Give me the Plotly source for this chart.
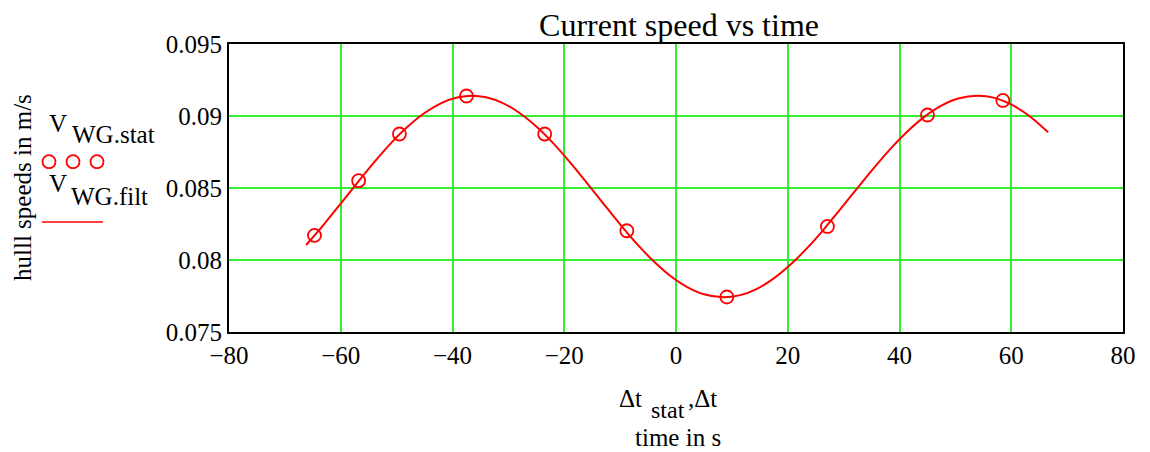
import plotly.graph_objects as go

# Sampled (stat) values
t_stat = [-64.7, -56.8, -49.5, -37.5, -23.5, -8.8, 9.1, 27.1, 45.0, 58.5]
v_stat = [0.08171, 0.08551, 0.08875, 0.09139, 0.08875, 0.08203, 0.07743, 0.08233, 0.09007, 0.09108]

# Filtered curve values
t_filt = [-66.2, -63, -60, -57, -54, -51, -48, -45, -42, -39, -36.5, -34, -31, -28, -25,
          -22, -19, -16, -13, -10, -7, -4, -1, 2, 5, 8.5, 11.5, 14.5, 17.5, 20.5, 23.5,
          26.5, 29.5, 32.5, 35.5, 38.5, 41.5, 44.5, 47.5, 50.5, 54, 57, 60, 63, 66.6]
v_filt = [0.08104, 0.08248, 0.08392, 0.08538, 0.08680, 0.08812, 0.08927, 0.09021, 0.09090,
          0.09130, 0.09141, 0.09130, 0.09090, 0.09021, 0.08927, 0.08812, 0.08680, 0.08538,
          0.08392, 0.08248, 0.08112, 0.07991, 0.07889, 0.07812, 0.07762, 0.07741, 0.07756,
          0.07800, 0.07872, 0.07968, 0.08084, 0.08215, 0.08357, 0.08501, 0.08643, 0.08777,
          0.08896, 0.08996, 0.09072, 0.09121, 0.09141, 0.09126, 0.09080, 0.09007, 0.08887]

x_ticks = [-80, -60, -40, -20, 0, 20, 40, 60, 80]
y_ticks = [0.075, 0.08, 0.085, 0.09, 0.095]
y_tick_labels = ["0.075", "0.08", "0.085", "0.09", "0.095"]

OFF = 8  # page body margin
W, H = 1150 - OFF, 452 - OFF
L, R, T, B = 229 - OFF, 27, 44 - OFF, 120
PW, PH = W - L - R, H - T - B

def px(x):
    return (x - OFF - L) / PW

def py(y):
    return (H - B - (y - OFF)) / PH

FONT = "Liberation Serif"
RED = "#ff0000"
GREEN = "#33ee33"

fig = go.Figure()
fig.add_trace(go.Scatter(x=t_filt, y=v_filt, mode="lines", line=dict(color=RED, width=2),
                         showlegend=False, line_shape="spline"))
fig.add_trace(go.Scatter(x=t_stat, y=v_stat, mode="markers",
                         marker=dict(symbol="circle-open", size=13, color=RED, line=dict(width=1.8)),
                         showlegend=False))

fig.update_layout(
    width=W, height=H,
    margin=dict(l=L, r=R, t=T, b=B),
    paper_bgcolor="white", plot_bgcolor="white",
    font=dict(family=FONT, size=25, color="black"),
    title=dict(text="Current speed vs time", x=px(679), xref="paper", xanchor="center",
               y=1 - (25 - OFF) / H, yref="container", yanchor="middle",
               font=dict(family=FONT, size=32, color="black")),
    xaxis=dict(range=[-80, 80], tickvals=x_ticks, showgrid=True, gridcolor=GREEN, gridwidth=1.5,
               zeroline=False, showline=True, linecolor="black", linewidth=2, mirror=True,
               ticks="", tickfont=dict(family=FONT, size=25)),
    yaxis=dict(range=[0.075, 0.095], tickvals=y_ticks, ticktext=y_tick_labels, showgrid=True,
               gridcolor=GREEN, gridwidth=1.5, zeroline=False, showline=True, linecolor="black",
               linewidth=2, mirror=True, ticks="", tickfont=dict(family=FONT, size=25)),
)

ann = []
def add_text(text, x, y, xanchor="left", size=25, angle=0):
    ann.append(dict(text=text, x=px(x), y=py(y), xref="paper", yref="paper", xanchor=xanchor,
                    yanchor="middle", showarrow=False, textangle=angle, borderpad=0,
                    font=dict(family=FONT, size=size, color="black")))

# y-axis title
add_text("hulll speeds in m/s", 22, 188, xanchor="center", angle=-90)
# x-axis title
add_text("\u0394t", 643, 398, xanchor="right")
add_text("stat", 650, 410, xanchor="left", size=24)
add_text(",\u0394t", 687, 398, xanchor="left")
add_text("time in s", 678, 437, xanchor="center")
# legend texts
add_text("V", 48, 123, xanchor="left")
add_text("WG.stat", 71, 134, xanchor="left")
add_text("V", 48, 183, xanchor="left")
add_text("WG.filt", 70, 196, xanchor="left")
fig.update_layout(annotations=ann)

shapes = []
for cx in [49, 73, 97]:
    r = 6.5
    shapes.append(dict(type="circle", xref="paper", yref="paper",
                       x0=px(cx - r), x1=px(cx + r), y0=py(161.7 + r), y1=py(161.7 - r),
                       line=dict(color=RED, width=1.8)))
shapes.append(dict(type="line", xref="paper", yref="paper", x0=px(42), x1=px(103),
                   y0=py(222), y1=py(222), line=dict(color=RED, width=1.5)))
fig.update_layout(shapes=shapes)

fig.write_html("out.html")
